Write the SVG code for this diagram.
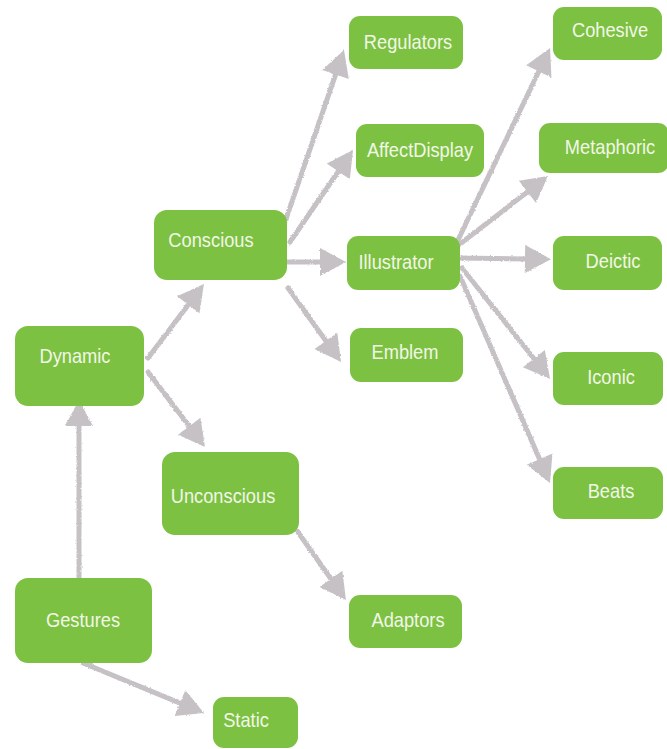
<svg xmlns="http://www.w3.org/2000/svg" width="667" height="749" viewBox="0 0 667 749">
  <style>
    .box { fill: #7dc143; }
    .lbl { font-family: "Liberation Sans", Arial, sans-serif; font-size: 21px; fill: #f1f7e6; text-anchor: middle;
           transform-box: fill-box; transform-origin: center; transform: scaleX(0.87); }
    .edge { stroke: #c6c1c4; stroke-width: 5; fill: none; stroke-linecap: round; marker-end: url(#head); }
  </style>
  <defs>
    <marker id="head" markerUnits="userSpaceOnUse" markerWidth="28" markerHeight="30" refX="6" refY="14" orient="auto" overflow="visible">
      <path d="M0,0 L26,14 L0,28 Z" fill="#c6c1c4"/>
    </marker>
    <!-- rough pencil-like edge for the connectors -->
    <filter id="rough" x="-5%" y="-5%" width="110%" height="110%">
      <feTurbulence type="fractalNoise" baseFrequency="0.6" numOctaves="2" seed="3" result="n"/>
      <feDisplacementMap in="SourceGraphic" in2="n" scale="2.5" xChannelSelector="R" yChannelSelector="G"/>
    </filter>
  </defs>

  <rect width="667" height="749" fill="#ffffff"/>

  <g id="connectors" filter="url(#rough)">
    <line class="edge" x1="79" y1="578" x2="79" y2="420"/>
    <line class="edge" x1="83" y1="663" x2="185.5" y2="705.4"/>
    <line class="edge" x1="148" y1="358" x2="191.9" y2="299.9"/>
    <line class="edge" x1="148" y1="372" x2="192.9" y2="431.1"/>
    <line class="edge" x1="285" y1="222" x2="337.5" y2="68.9"/>
    <line class="edge" x1="290" y1="242" x2="341.7" y2="166.5"/>
    <line class="edge" x1="287" y1="262" x2="326" y2="262"/>
    <line class="edge" x1="288" y1="288" x2="329.4" y2="345.7"/>
    <line class="edge" x1="295" y1="528" x2="334.4" y2="583.7"/>
    <line class="edge" x1="458" y1="240" x2="541.4" y2="66"/>
    <line class="edge" x1="460" y1="244" x2="532.2" y2="188.2"/>
    <line class="edge" x1="460" y1="258" x2="531" y2="259"/>
    <line class="edge" x1="462" y1="268" x2="537.6" y2="363.3"/>
    <line class="edge" x1="460" y1="276" x2="542" y2="464.7"/>
  </g>

  <g id="dynamic"><rect class="box" x="15" y="326" width="129" height="80" rx="13"/><text class="lbl" x="75" y="363">Dynamic</text></g>
  <g id="conscious"><rect class="box" x="154" y="210" width="133" height="70" rx="13"/><text class="lbl" x="211" y="247">Conscious</text></g>
  <g id="unconscious"><rect class="box" x="162" y="452" width="137" height="83" rx="13"/><text class="lbl" x="223" y="503">Unconscious</text></g>
  <g id="gestures"><rect class="box" x="15" y="578" width="137" height="85" rx="13"/><text class="lbl" x="83" y="627">Gestures</text></g>
  <g id="static"><rect class="box" x="213" y="697" width="85" height="51" rx="11"/><text class="lbl" x="246" y="727">Static</text></g>
  <g id="regulators"><rect class="box" x="349" y="16" width="114" height="53" rx="11"/><text class="lbl" x="408" y="49">Regulators</text></g>
  <g id="affectdisplay"><rect class="box" x="356" y="124" width="128" height="53" rx="11"/><text class="lbl" x="420" y="157">AffectDisplay</text></g>
  <g id="illustrator"><rect class="box" x="347" y="236" width="113" height="54" rx="11"/><text class="lbl" x="396" y="269">Illustrator</text></g>
  <g id="emblem"><rect class="box" x="350" y="328" width="113" height="54" rx="11"/><text class="lbl" x="405" y="359">Emblem</text></g>
  <g id="adaptors"><rect class="box" x="349" y="595" width="113" height="53" rx="11"/><text class="lbl" x="408" y="627">Adaptors</text></g>
  <g id="cohesive"><rect class="box" x="553" y="7" width="109" height="53" rx="11"/><text class="lbl" x="610" y="37">Cohesive</text></g>
  <g id="metaphoric"><rect class="box" x="539" y="123" width="130" height="50" rx="11"/><text class="lbl" x="610" y="154">Metaphoric</text></g>
  <g id="deictic"><rect class="box" x="553" y="236" width="109" height="54" rx="11"/><text class="lbl" x="613" y="268">Deictic</text></g>
  <g id="iconic"><rect class="box" x="553" y="352" width="110" height="53" rx="11"/><text class="lbl" x="611" y="384">Iconic</text></g>
  <g id="beats"><rect class="box" x="553" y="467" width="110" height="52" rx="11"/><text class="lbl" x="611" y="498">Beats</text></g>
</svg>
